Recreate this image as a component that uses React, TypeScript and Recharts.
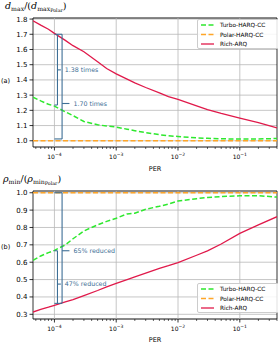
import React from 'react';
import { LineChart, Line, XAxis, YAxis, CartesianGrid, ReferenceLine, ReferenceArea } from 'recharts';

// PER sample points (log x axis)
const PER = [4.5e-5, 6e-5, 8e-5, 1e-4, 1.5e-4, 2e-4, 3e-4, 5e-4, 7e-4, 1e-3, 1.5e-3, 2e-3, 3e-3, 5e-3, 7e-3, 1e-2, 2e-2, 3e-2, 5e-2, 1e-1, 2e-1, 4e-1];

// (a) d_max / d_max,Polar
const TURBO_DMAX = [1.287, 1.262, 1.24, 1.228, 1.19, 1.165, 1.127, 1.105, 1.097, 1.09, 1.076, 1.066, 1.053, 1.04, 1.033, 1.028, 1.019, 1.016, 1.013, 1.011, 1.012, 1.015];
const POLAR_DMAX = [1, 1, 1, 1, 1, 1, 1, 1, 1, 1, 1, 1, 1, 1, 1, 1, 1, 1, 1, 1, 1, 1];
const RICH_DMAX = [1.789, 1.76, 1.733, 1.706, 1.66, 1.625, 1.585, 1.52, 1.475, 1.44, 1.405, 1.38, 1.35, 1.315, 1.29, 1.272, 1.23, 1.205, 1.18, 1.149, 1.12, 1.085];

// (b) rho_min / rho_min,Polar
const TURBO_RHO = [0.611, 0.636, 0.655, 0.668, 0.7, 0.735, 0.78, 0.815, 0.835, 0.853, 0.878, 0.882, 0.905, 0.922, 0.935, 0.952, 0.966, 0.973, 0.978, 0.982, 0.983, 0.975];
const POLAR_RHO = [1, 1, 1, 1, 1, 1, 1, 1, 1, 1, 1, 1, 1, 1, 1, 1, 1, 1, 1, 1, 1, 1];
const RICH_RHO = [0.313, 0.328, 0.341, 0.352, 0.372, 0.385, 0.408, 0.437, 0.458, 0.478, 0.5, 0.515, 0.537, 0.565, 0.58, 0.598, 0.64, 0.665, 0.705, 0.766, 0.815, 0.862];

const X_DOMAIN = [4.5e-5, 0.4];
const X_MAJOR = [1e-4, 1e-3, 1e-2, 1e-1];
const X_TICKS = [
  5e-5, 6e-5, 7e-5, 8e-5, 9e-5,
  1e-4, 2e-4, 3e-4, 4e-4, 5e-4, 6e-4, 7e-4, 8e-4, 9e-4,
  1e-3, 2e-3, 3e-3, 4e-3, 5e-3, 6e-3, 7e-3, 8e-3, 9e-3,
  1e-2, 2e-2, 3e-2, 4e-2, 5e-2, 6e-2, 7e-2, 8e-2, 9e-2,
  1e-1, 2e-1, 3e-1, 4e-1,
];
const Y_DOMAIN_TOP = [0.959, 1.807];
const Y_TICKS_TOP = [1.0, 1.1, 1.2, 1.3, 1.4, 1.5, 1.6, 1.7, 1.8];
const Y_DOMAIN_BOTTOM = [0.273, 1.01];
const Y_TICKS_BOTTOM = [0.3, 0.4, 0.5, 0.6, 0.7, 0.8, 0.9, 1.0];

const SERIES = [
  { key: 'turbo', name: 'Turbo-HARQ-CC', color: '#2ee82e', dash: '5 2.5', width: 1.5 },
  { key: 'polar', name: 'Polar-HARQ-CC', color: '#ffa628', dash: '5 2.5', width: 1.5 },
  { key: 'rich', name: 'Rich-ARQ', color: '#e0194a', dash: undefined, width: 1.3 },
];

// bracket annotations: [x1, y1, x2, y2]
const BRACKETS_TOP = [
  [1e-4, 1.7, 1.33e-4, 1.7],
  [1.12e-4, 1.7, 1.12e-4, 1.235],
  [1e-4, 1.235, 1.12e-4, 1.235],
  [1.33e-4, 1.7, 1.33e-4, 1.012],
  [1e-4, 1.012, 1.33e-4, 1.012],
];
const NOTES_TOP = [
  { x1: 1.12e-4, x2: 1.27e-4, y: 1.466, text: '1.38 times' },
  { x1: 1.33e-4, x2: 1.75e-4, y: 1.245, text: '1.70 times' },
];
const BRACKETS_BOTTOM = [
  [1e-4, 1.0, 1.33e-4, 1.0],
  [1.33e-4, 1.0, 1.33e-4, 0.363],
  [1e-4, 0.363, 1.33e-4, 0.363],
  [1.12e-4, 0.666, 1.12e-4, 0.363],
  [1e-4, 0.666, 1.12e-4, 0.666],
];
const NOTES_BOTTOM = [
  { x1: 1.33e-4, x2: 1.75e-4, y: 0.666, text: '65% reduced' },
  { x1: 1.12e-4, x2: 1.27e-4, y: 0.474, text: '47% reduced' },
];

const NOTE_COLOR = '#3d6f96';
const GRID = '#b8b8b8';
const FONT = 'DejaVu Sans';

const dataTop = PER.map((p, i) => ({ per: p, turbo: TURBO_DMAX[i], polar: POLAR_DMAX[i], rich: RICH_DMAX[i] }));
const dataBottom = PER.map((p, i) => ({ per: p, turbo: TURBO_RHO[i], polar: POLAR_RHO[i], rich: RICH_RHO[i] }));

const LogTick = (props: any) => {
  const { x, y, payload } = props;
  const v = payload.value;
  const major = X_MAJOR.includes(v);
  const exp = Math.round(Math.log10(v));
  return (
    <g>
      <line x1={x} y1={y} x2={x} y2={y + (major ? 3.5 : 2)} stroke="#000" strokeWidth={major ? 0.8 : 0.6} />
      {major && (
        <text x={x} y={y + 11.5} textAnchor="middle" fontSize={6} fontFamily={FONT} fill="#000">
          10<tspan dy={-3} fontSize={4.5}>{'\u2212' + Math.abs(exp)}</tspan>
        </text>
      )}
    </g>
  );
};

const Panel = ({ data, yDomain, yTicks, brackets, notes, height, top, xHeight }: any) => (
  <LineChart width={278} height={height} data={data} margin={{ top, right: 1, left: 0, bottom: 0 }}>
    <CartesianGrid vertical={false} stroke={GRID} strokeWidth={0.8} />
    {X_MAJOR.map((m) => (
      <ReferenceLine key={m} x={m} stroke={GRID} strokeWidth={0.8} />
    ))}
    <XAxis
      dataKey="per"
      type="number"
      scale="log"
      domain={X_DOMAIN}
      allowDataOverflow
      ticks={X_TICKS}
      interval={0}
      tick={<LogTick />}
      tickLine={false}
      axisLine={false}
      tickSize={0}
      tickMargin={0}
      height={xHeight}
    />
    <YAxis
      type="number"
      domain={yDomain}
      allowDataOverflow
      ticks={yTicks}
      interval={0}
      width={33}
      axisLine={false}
      tickSize={3.5}
      tickMargin={2}
      tickLine={{ stroke: '#000', strokeWidth: 0.8 }}
      tick={{ fontSize: 7, fill: '#000', fontFamily: FONT }}
      tickFormatter={(v: number) => v.toFixed(1)}
    />
    {SERIES.map((s) => (
      <Line
        key={s.key}
        dataKey={s.key}
        stroke={s.color}
        strokeWidth={s.width}
        strokeDasharray={s.dash}
        dot={false}
        type="linear"
        isAnimationActive={false}
      />
    ))}
    {brackets.map((b: number[], i: number) => (
      <ReferenceLine
        key={'b' + i}
        segment={[{ x: b[0], y: b[1] }, { x: b[2], y: b[3] }]}
        stroke={NOTE_COLOR}
        strokeWidth={1.1}
      />
    ))}
    {notes.map((n: any, i: number) => (
      <ReferenceLine
        key={'n' + i}
        segment={[{ x: n.x1, y: n.y }, { x: n.x2, y: n.y }]}
        stroke={NOTE_COLOR}
        strokeWidth={1.1}
        label={{ value: n.text, position: 'right', offset: 4, fill: NOTE_COLOR, fontSize: 6.3, fontFamily: FONT }}
      />
    ))}
    <ReferenceArea
      x1={X_DOMAIN[0]}
      x2={X_DOMAIN[1]}
      y1={yDomain[0]}
      y2={yDomain[1]}
      fill="none"
      fillOpacity={0}
      stroke="#000"
      strokeWidth={0.8}
    />
  </LineChart>
);

const LegendBox = ({ top }: { top: number }) => (
  <div
    style={{
      position: 'absolute',
      left: 197,
      top,
      width: 84,
      height: 30,
      border: '0.8px solid #cccccc',
      borderRadius: 2,
      background: 'rgba(255,255,255,0.85)',
      boxSizing: 'border-box',
    }}
  >
    <svg width={84} height={30} style={{ display: 'block' }}>
      {SERIES.map((s, i) => (
        <g key={s.key}>
          <line
            x1={3}
            x2={16}
            y1={5 + i * 9.5}
            y2={5 + i * 9.5}
            stroke={s.color}
            strokeWidth={s.width}
            strokeDasharray={s.dash}
          />
          <text x={22} y={5 + i * 9.5 + 2.1} fontSize={5.8} fontFamily={FONT} fill="#000">
            {s.name}
          </text>
        </g>
      ))}
    </svg>
  </div>
);

export default function App() {
  return (
    <div style={{ position: 'absolute', left: 0, top: 0, width: 278, height: 343, background: '#fff', overflow: 'hidden' }}>
      <div style={{ position: 'absolute', left: 0, top: 0 }}>
        <Panel data={dataTop} yDomain={Y_DOMAIN_TOP} yTicks={Y_TICKS_TOP} brackets={BRACKETS_TOP} notes={NOTES_TOP} height={175} top={18} xHeight={28} />
      </div>
      <div style={{ position: 'absolute', left: 0, top: 175 }}>
        <Panel data={dataBottom} yDomain={Y_DOMAIN_BOTTOM} yTicks={Y_TICKS_BOTTOM} brackets={BRACKETS_BOTTOM} notes={NOTES_BOTTOM} height={168} top={16} xHeight={24} />
      </div>
      <LegendBox top={19} />
      <LegendBox top={283} />
      <svg width={278} height={343} style={{ position: 'absolute', left: 0, top: 0, pointerEvents: 'none' }}>
        <text x={5} y={9} fontSize={9.5} fontFamily="DejaVu Serif" fill="#000">
          <tspan fontStyle="italic">d</tspan>
          <tspan fontSize={6.2} dy={2}>max</tspan>
          <tspan dy={-2}>/(</tspan>
          <tspan fontStyle="italic">d</tspan>
          <tspan fontSize={6.2} dy={2}>max</tspan>
          <tspan fontSize={4.8} dy={1.2}>Polar</tspan>
          <tspan dy={-3.2}>)</tspan>
        </text>
        <text x={3} y={182} fontSize={9.5} fontFamily="DejaVu Serif" fill="#000">
          <tspan fontStyle="italic">ρ</tspan>
          <tspan fontSize={6.2} dy={2}>min</tspan>
          <tspan dy={-2}>/(</tspan>
          <tspan fontStyle="italic">ρ</tspan>
          <tspan fontSize={6.2} dy={2}>min</tspan>
          <tspan fontSize={4.8} dy={1.2}>Polar</tspan>
          <tspan dy={-3.2}>)</tspan>
        </text>
        <text x={1} y={82.5} fontSize={6.5} fontFamily={FONT} fill="#000">(a)</text>
        <text x={1} y={248.5} fontSize={6.5} fontFamily={FONT} fill="#000">(b)</text>
        <text x={155} y={170.5} fontSize={6.5} fontFamily={FONT} fill="#000" textAnchor="middle">PER</text>
        <text x={155} y={341.5} fontSize={6.5} fontFamily={FONT} fill="#000" textAnchor="middle">PER</text>
      </svg>
    </div>
  );
}
